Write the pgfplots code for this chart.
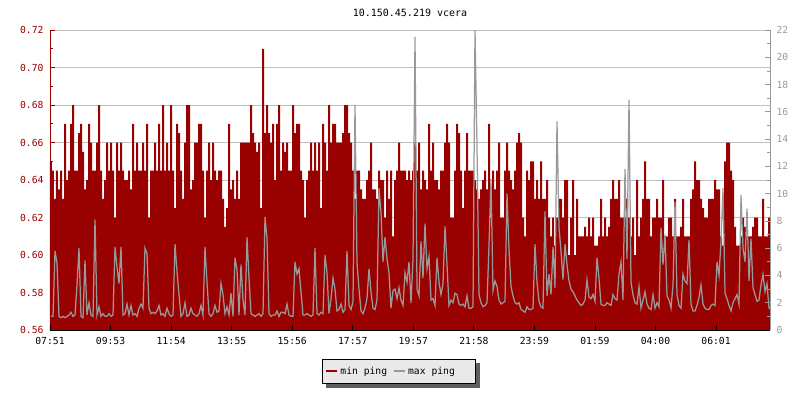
\documentclass[border=0pt]{standalone}
\usepackage{fontspec}
\setmainfont{DejaVu Sans Mono}
\setmonofont{DejaVu Sans Mono}
\usepackage{pgfplots}
\pgfplotsset{compat=1.18}
\usepackage{pgfplotstable}
\definecolor{dkred}{HTML}{990000}
\definecolor{gline}{HTML}{999999}
\definecolor{gridc}{HTML}{C0C0C0}
\definecolor{legbg}{HTML}{E9E9E9}
\definecolor{shad}{HTML}{5E5E5E}
\pgfdeclarelayer{background}
\pgfsetlayers{background,main}

\pgfplotstableread[row sep=\\]{
mn mx \\
0.65 1.0 \\ 0.645 1.0 \\ 0.63 5.8 \\ 0.645 4.9 \\ 0.635 1.0 \\ 0.645 0.9 \\ 0.63 1.0 \\ 0.67 0.9 \\ 0.64 1.0 \\ 0.645 1.1 \\
0.67 1.3 \\ 0.68 1.0 \\ 0.645 1.1 \\ 0.645 3.3 \\ 0.665 6.0 \\ 0.67 1.0 \\ 0.655 0.9 \\ 0.635 5.1 \\ 0.64 1.1 \\ 0.67 2.0 \\
0.66 1.1 \\ 0.645 1.0 \\ 0.645 8.1 \\ 0.66 1.1 \\ 0.68 1.7 \\ 0.645 1.0 \\ 0.63 1.2 \\ 0.64 1.0 \\ 0.66 1.0 \\ 0.645 1.2 \\
0.66 1.0 \\ 0.645 1.1 \\ 0.62 6.1 \\ 0.66 4.6 \\ 0.645 3.4 \\ 0.66 6.1 \\ 0.645 1.1 \\ 0.64 1.2 \\ 0.64 1.9 \\ 0.645 1.1 \\
0.635 1.8 \\ 0.67 1.1 \\ 0.645 1.2 \\ 0.66 1.0 \\ 0.645 1.6 \\ 0.645 1.9 \\ 0.66 1.6 \\ 0.645 6.0 \\ 0.67 5.6 \\ 0.62 1.6 \\
0.645 1.2 \\ 0.645 1.3 \\ 0.66 1.2 \\ 0.645 1.4 \\ 0.67 1.8 \\ 0.645 1.1 \\ 0.68 1.2 \\ 0.645 1.0 \\ 0.66 1.6 \\ 0.645 1.2 \\
0.68 1.0 \\ 0.645 1.1 \\ 0.625 6.3 \\ 0.67 4.3 \\ 0.665 2.6 \\ 0.645 1.0 \\ 0.63 1.2 \\ 0.66 2.0 \\ 0.68 1.0 \\ 0.68 1.1 \\
0.635 1.6 \\ 0.64 1.2 \\ 0.66 1.1 \\ 0.66 1.0 \\ 0.67 1.2 \\ 0.67 1.8 \\ 0.645 1.1 \\ 0.62 6.1 \\ 0.645 3.5 \\ 0.66 1.2 \\
0.64 1.0 \\ 0.66 1.2 \\ 0.645 1.8 \\ 0.64 1.3 \\ 0.645 1.4 \\ 0.645 3.4 \\ 0.63 2.6 \\ 0.615 1.2 \\ 0.625 1.7 \\ 0.67 1.1 \\
0.635 2.7 \\ 0.64 1.0 \\ 0.63 5.3 \\ 0.645 4.4 \\ 0.63 1.1 \\ 0.66 4.8 \\ 0.66 2.2 \\ 0.66 1.1 \\ 0.66 6.8 \\ 0.66 3.8 \\
0.68 1.2 \\ 0.665 1.1 \\ 0.66 1.0 \\ 0.655 1.1 \\ 0.66 1.2 \\ 0.625 1.0 \\ 0.71 1.2 \\ 0.665 8.3 \\ 0.68 6.7 \\ 0.665 1.2 \\
0.66 1.0 \\ 0.67 1.1 \\ 0.64 1.1 \\ 0.67 1.4 \\ 0.68 1.0 \\ 0.645 1.3 \\ 0.66 1.3 \\ 0.655 1.2 \\ 0.66 1.9 \\ 0.645 1.1 \\
0.645 1.0 \\ 0.68 1.0 \\ 0.665 5.0 \\ 0.67 4.1 \\ 0.67 4.5 \\ 0.645 2.8 \\ 0.64 1.1 \\ 0.62 1.1 \\ 0.64 1.2 \\ 0.645 1.1 \\
0.66 1.0 \\ 0.645 1.1 \\ 0.66 6.0 \\ 0.645 1.2 \\ 0.66 1.1 \\ 0.625 1.3 \\ 0.67 1.2 \\ 0.66 5.5 \\ 0.645 4.2 \\ 0.68 1.2 \\
0.66 2.3 \\ 0.67 3.8 \\ 0.67 3.0 \\ 0.66 1.4 \\ 0.66 1.5 \\ 0.66 1.9 \\ 0.665 1.3 \\ 0.68 1.5 \\ 0.68 5.8 \\ 0.665 1.8 \\
0.66 1.5 \\ 0.645 2.1 \\ 0.63 16.5 \\ 0.645 4.9 \\ 0.645 3.0 \\ 0.635 1.4 \\ 0.63 1.2 \\ 0.63 1.6 \\ 0.64 2.3 \\ 0.645 4.5 \\
0.66 2.8 \\ 0.635 1.6 \\ 0.635 1.5 \\ 0.63 2.2 \\ 0.645 10.4 \\ 0.64 8.6 \\ 0.64 5.0 \\ 0.62 6.8 \\ 0.645 5.2 \\ 0.63 4.2 \\
0.645 1.6 \\ 0.61 2.9 \\ 0.64 3.0 \\ 0.645 2.3 \\ 0.66 3.1 \\ 0.645 2.2 \\ 0.645 1.8 \\ 0.645 4.2 \\ 0.64 3.5 \\ 0.645 5.0 \\
0.64 2.0 \\ 0.645 5.2 \\ 0.66 21.5 \\ 0.645 3.0 \\ 0.66 2.5 \\ 0.635 6.5 \\ 0.645 3.8 \\ 0.64 7.8 \\ 0.635 4.5 \\ 0.67 5.4 \\
0.645 2.2 \\ 0.66 2.3 \\ 0.64 1.8 \\ 0.64 5.3 \\ 0.635 3.5 \\ 0.645 2.6 \\ 0.645 3.4 \\ 0.66 7.6 \\ 0.67 4.8 \\ 0.66 1.8 \\
0.62 2.2 \\ 0.62 2.0 \\ 0.645 2.7 \\ 0.67 2.6 \\ 0.665 1.9 \\ 0.645 1.8 \\ 0.625 1.9 \\ 0.645 1.7 \\ 0.665 2.5 \\ 0.645 1.6 \\
0.645 1.6 \\ 0.645 1.7 \\ 0.64 22.0 \\ 0.635 13.5 \\ 0.63 2.6 \\ 0.635 2.0 \\ 0.64 1.7 \\ 0.645 1.8 \\ 0.635 2.0 \\ 0.67 6.2 \\
0.62 11.1 \\ 0.645 2.9 \\ 0.635 3.6 \\ 0.645 3.2 \\ 0.66 2.2 \\ 0.62 1.9 \\ 0.62 2.0 \\ 0.645 2.1 \\ 0.66 10.0 \\ 0.645 5.9 \\
0.64 3.2 \\ 0.635 2.5 \\ 0.645 2.0 \\ 0.66 1.9 \\ 0.665 2.0 \\ 0.66 1.5 \\ 0.62 1.4 \\ 0.61 1.3 \\ 0.645 1.7 \\ 0.64 1.5 \\
0.65 1.5 \\ 0.65 1.6 \\ 0.63 6.3 \\ 0.64 3.5 \\ 0.63 2.1 \\ 0.65 1.7 \\ 0.63 1.6 \\ 0.63 8.7 \\ 0.64 2.5 \\ 0.62 4.1 \\
0.61 2.6 \\ 0.62 6.1 \\ 0.605 3.1 \\ 0.62 15.3 \\ 0.63 7.5 \\ 0.63 5.8 \\ 0.62 3.7 \\ 0.64 6.3 \\ 0.64 4.8 \\ 0.60 3.6 \\
0.62 3.0 \\ 0.64 2.8 \\ 0.60 2.5 \\ 0.63 2.2 \\ 0.61 2.0 \\ 0.61 1.8 \\ 0.61 1.9 \\ 0.615 2.2 \\ 0.61 3.7 \\ 0.62 2.4 \\
0.61 2.3 \\ 0.62 2.6 \\ 0.605 2.1 \\ 0.605 5.3 \\ 0.61 3.8 \\ 0.63 1.9 \\ 0.61 1.8 \\ 0.62 1.8 \\ 0.61 2.0 \\ 0.615 1.9 \\
0.63 1.8 \\ 0.64 2.6 \\ 0.63 2.3 \\ 0.63 2.2 \\ 0.64 4.1 \\ 0.62 5.0 \\ 0.62 2.2 \\ 0.62 11.8 \\ 0.63 5.2 \\ 0.62 16.9 \\
0.61 3.5 \\ 0.62 2.6 \\ 0.60 2.0 \\ 0.64 1.9 \\ 0.61 3.2 \\ 0.62 1.6 \\ 0.63 2.2 \\ 0.65 2.8 \\ 0.63 1.9 \\ 0.63 1.6 \\
0.61 1.5 \\ 0.62 2.6 \\ 0.62 1.6 \\ 0.63 2.0 \\ 0.62 1.7 \\ 0.62 7.5 \\ 0.64 4.8 \\ 0.61 7.0 \\ 0.61 2.5 \\ 0.62 2.2 \\
0.62 1.6 \\ 0.61 3.3 \\ 0.63 9.4 \\ 0.61 2.6 \\ 0.61 1.8 \\ 0.615 1.6 \\ 0.63 4.1 \\ 0.61 3.6 \\ 0.61 3.4 \\ 0.61 6.6 \\
0.63 1.9 \\ 0.635 1.4 \\ 0.65 1.4 \\ 0.64 1.8 \\ 0.64 2.4 \\ 0.63 3.3 \\ 0.625 1.9 \\ 0.62 1.6 \\ 0.62 1.5 \\ 0.63 1.5 \\
0.63 1.8 \\ 0.63 1.9 \\ 0.64 1.8 \\ 0.635 5.0 \\ 0.635 4.0 \\ 0.61 6.5 \\ 0.605 10.4 \\ 0.65 2.7 \\ 0.66 2.3 \\ 0.66 1.8 \\
0.645 1.4 \\ 0.64 2.0 \\ 0.615 2.3 \\ 0.605 2.6 \\ 0.605 1.9 \\ 0.61 9.9 \\ 0.62 6.0 \\ 0.615 5.0 \\ 0.61 8.9 \\ 0.61 3.6 \\
0.61 6.7 \\ 0.615 3.1 \\ 0.62 2.6 \\ 0.62 2.1 \\ 0.61 2.2 \\ 0.61 3.3 \\ 0.63 4.1 \\ 0.61 2.8 \\ 0.61 3.4 \\ 0.62 1.6 \\
0.62 1.6 \\
}\pingdata

\pgfplotsset{
  tlfont/.style={font=\fontsize{9.7}{11}\selectfont},
}

\begin{document}
\begin{tikzpicture}
\path[use as bounding box] (0pt,0pt) rectangle (800pt,400pt);
\begin{axis}[
  at={(50pt,70pt)}, anchor=south west,
  width=720pt, height=300pt, scale only axis,
  xmin=0, xmax=720, ymin=0.56, ymax=0.72,
  axis x line*=bottom, axis y line*=left,
  axis line style={-},
  x axis line style={black, line width=0.8pt},
  y axis line style={dkred, line width=0.8pt},
  xtick=\empty,
  ytick={0.56,0.58,0.60,0.62,0.64,0.66,0.68,0.70,0.72},
  minor y tick num=1,
  tick align=inside,
  major tick length=5pt, minor tick length=3.3pt,
  y tick style={dkred, line width=0.8pt},
  /pgf/number format/assume math mode=true,
  yticklabel style={dkred, tlfont, xshift=-3pt, /pgf/number format/.cd, fixed, fixed zerofill, precision=2},
  ymajorgrids, grid style={gridc, line width=0.9pt},
  title={10.150.45.219 vcera},
  title style={font=\fontsize{10}{12}\selectfont, at={(0.5,1)}, anchor=south, yshift=4pt},
]
\addplot[const plot, fill=dkred, draw=none, forget plot]
  table[x expr=\coordindex*2, y=mn] {\pingdata} \closedcycle;
\end{axis}
\begin{axis}[
  at={(50pt,70pt)}, anchor=south west,
  width=720pt, height=300pt, scale only axis,
  xmin=0, xmax=720, ymin=0, ymax=22,
  axis x line*=bottom, axis y line*=right,
  axis line style={-},
  x axis line style={black, line width=0.8pt},
  y axis line style={gline, line width=0.8pt},
  xtick={0,60.55,121.1,181.65,242.2,302.75,363.3,423.85,484.4,544.95,605.5,666.05},
  xticklabels={07:51,09:53,11:54,13:55,15:56,17:57,19:57,21:58,23:59,01:59,04:00,06:01},
  ytick={0,2,...,22},
  minor y tick num=1,
  tick align=inside,
  major tick length=5pt, minor tick length=3.3pt,
  x tick style={black, line width=0.8pt},
  y tick style={gline, line width=0.8pt},
  /pgf/number format/assume math mode=true,
  xticklabel style={black, tlfont, yshift=-4pt},
  yticklabel style={gline, tlfont, xshift=3pt},
  axis on top,
  legend image code/.code={\draw[#1] (0pt,0pt) -- (11pt,0pt);},
  legend columns=2,
  legend style={name=leg, at={(0.3778,-0.0967)}, anchor=north west,
    fill=legbg, draw=black, line width=0.8pt,
    font=\fontsize{9.7}{11}\selectfont,
    inner xsep=3pt, inner ysep=5.5pt,
    /tikz/every even column/.append style={column sep=4pt}},
]
\addplot[sharp plot, color=gline, line width=1.25pt, forget plot]
  table[x expr=\coordindex*2+1, y=mx] {\pingdata};
\addlegendimage{dkred, line width=2pt}
\addlegendentry{min ping}
\addlegendimage{gline, line width=2pt}
\addlegendentry{\makebox[62pt][l]{max ping}}
\end{axis}
\begin{pgfonlayer}{background}
\fill[shad] ([shift={(4pt,-4pt)}]leg.south west) rectangle ([shift={(4pt,-4pt)}]leg.north east);
\end{pgfonlayer}
\end{tikzpicture}
\end{document}
